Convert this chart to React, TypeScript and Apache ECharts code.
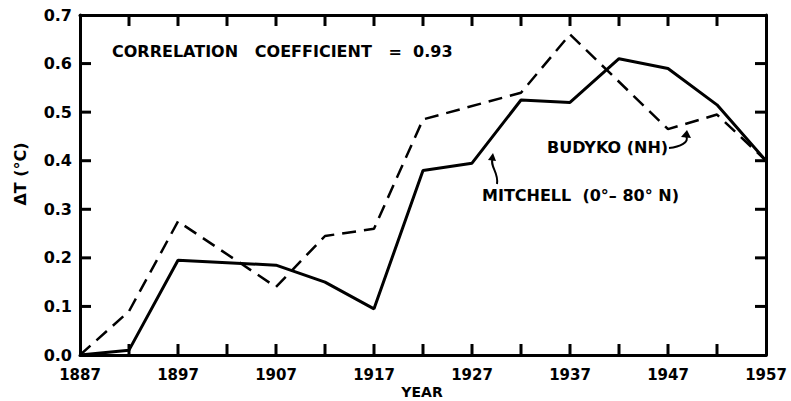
import React, { useEffect, useRef } from "react";
import * as echarts from "echarts";

const years = ["1887", "1892", "1897", "1902", "1907", "1912", "1917", "1922", "1927", "1932", "1937", "1942", "1947", "1952", "1957"];
const mitchell = [0.0, 0.01, 0.195, 0.19, 0.185, 0.15, 0.095, 0.38, 0.395, 0.525, 0.52, 0.61, 0.59, 0.515, 0.4];
const budyko: (number | null)[] = [0.0, 0.09, 0.275, null, 0.14, 0.245, 0.26, 0.485, null, 0.54, 0.66, null, 0.465, 0.495, 0.4];
const yTicks = [0, 0.7, 0.1];
const yTickValues = [0.1, 0.2, 0.3, 0.4, 0.5, 0.6];

const FONT = "DejaVu Sans";

export default function App() {
  const ref = useRef<HTMLDivElement>(null);
  useEffect(() => {
    if (!ref.current) return;
    const chart = echarts.init(ref.current, null, { renderer: "svg" });
    const axisLine = { show: true, onZero: false, lineStyle: { color: "#000", width: 3 } };
    const last = years.length - 1;
    const tickData: number[][] = [];
    for (let i = 1; i < last; i++) {
      tickData.push([i, yTicks[0], 0]);
      tickData.push([i, yTicks[1], 1]);
    }
    yTickValues.forEach((v) => {
      tickData.push([0, v, 2]);
      tickData.push([last, v, 3]);
    });
    chart.setOption({
      animation: false,
      backgroundColor: "#fff",
      grid: { left: 80, right: 25, top: 15, bottom: 46, containLabel: false, outerBoundsMode: "none" },
      xAxis: [
        {
          type: "category",
          data: years,
          boundaryGap: false,
          position: "bottom",
          axisLine,
          axisTick: { show: false },
          axisLabel: { interval: 1, color: "#000", fontFamily: FONT, fontWeight: "bold", fontSize: 15, margin: 12 },
          splitLine: { show: false },
        },
        {
          type: "category",
          data: years,
          boundaryGap: false,
          position: "top",
          axisLine,
          axisTick: { show: false },
          axisLabel: { show: false },
          splitLine: { show: false },
        },
      ],
      yAxis: [
        {
          type: "value",
          min: yTicks[0],
          max: yTicks[1],
          interval: yTicks[2],
          position: "left",
          axisLine,
          axisTick: { show: false },
          axisLabel: {
            color: "#000",
            fontFamily: FONT,
            fontWeight: "bold",
            fontSize: 16,
            margin: 8,
            formatter: (v: number) => v.toFixed(1),
          },
          splitLine: { show: false },
        },
        {
          type: "value",
          min: yTicks[0],
          max: yTicks[1],
          interval: yTicks[2],
          position: "right",
          axisLine,
          axisTick: { show: false },
          axisLabel: { show: false },
          splitLine: { show: false },
        },
      ],
      series: [
        {
          name: "MITCHELL (0°–80°N)",
          type: "line",
          data: mitchell,
          symbol: "none",
          lineStyle: { color: "#000", width: 3 },
        },
        {
          name: "BUDYKO (NH)",
          type: "line",
          data: budyko,
          connectNulls: true,
          symbol: "none",
          lineStyle: { color: "#000", width: 2.5, type: [14, 8] },
        },
        {
          name: "ticks",
          type: "custom",
          xAxisIndex: 0,
          yAxisIndex: 0,
          silent: true,
          clip: false,
          z: 5,
          data: tickData,
          renderItem: (params: any, api: any) => {
            const p = api.coord([api.value(0), api.value(1)]);
            const side = api.value(2);
            const L = 11;
            const W = 3;
            let shape;
            if (side === 0) shape = { x: p[0] - W / 2, y: p[1] - L, width: W, height: L };
            else if (side === 1) shape = { x: p[0] - W / 2, y: p[1], width: W, height: L };
            else if (side === 2) shape = { x: p[0], y: p[1] - W / 2, width: L, height: W };
            else shape = { x: p[0] - L, y: p[1] - W / 2, width: L, height: W };
            return {
              type: "rect",
              shape,
              style: { fill: "#000" },
            };
          },
        },
      ],
      graphic: [
        {
          type: "text",
          left: 112,
          top: 43,
          style: {
            text: "CORRELATION   COEFFICIENT   =  0.93",
            font: `bold 16px "${FONT}"`,
            fill: "#000",
          },
        },
        {
          type: "text",
          left: 547,
          top: 139,
          style: { text: "BUDYKO (NH)", font: `bold 16px "${FONT}"`, fill: "#000" },
        },
        {
          type: "text",
          left: 482,
          top: 187,
          style: { text: "MITCHELL  (0°– 80° N)", font: `bold 16px "${FONT}"`, fill: "#000" },
        },
        {
          type: "text",
          x: 422,
          y: 392,
          style: {
            text: "YEAR",
            font: `bold 14px "${FONT}"`,
            fill: "#000",
            align: "center",
            verticalAlign: "middle",
          },
        },
        {
          type: "text",
          x: 20,
          y: 174,
          rotation: Math.PI / 2,
          style: {
            text: "ΔT (°C)",
            font: `bold 16px "${FONT}"`,
            fill: "#000",
            align: "center",
            verticalAlign: "middle",
          },
        },
        {
          type: "bezierCurve",
          shape: { x1: 497, y1: 184, x2: 493, y2: 158, cpx1: 499, cpy1: 172, cpx2: 489, cpy2: 166 },
          style: { stroke: "#000", lineWidth: 2, fill: "none" },
        },
        {
          type: "polygon",
          shape: { points: [[488, 160], [493, 153], [496, 161]] },
          style: { fill: "#000" },
        },
        {
          type: "bezierCurve",
          shape: { x1: 669, y1: 148, x2: 686, y2: 136, cpx1: 680, cpy1: 147, cpx2: 690, cpy2: 142 },
          style: { stroke: "#000", lineWidth: 2, fill: "none" },
        },
        {
          type: "polygon",
          shape: { points: [[681, 137], [687, 130], [691, 138]] },
          style: { fill: "#000" },
        },
      ],
    });
    return () => chart.dispose();
  }, []);
  return <div ref={ref} style={{ width: 791, height: 401, position: "absolute", left: 0, top: 0 }} />;
}
